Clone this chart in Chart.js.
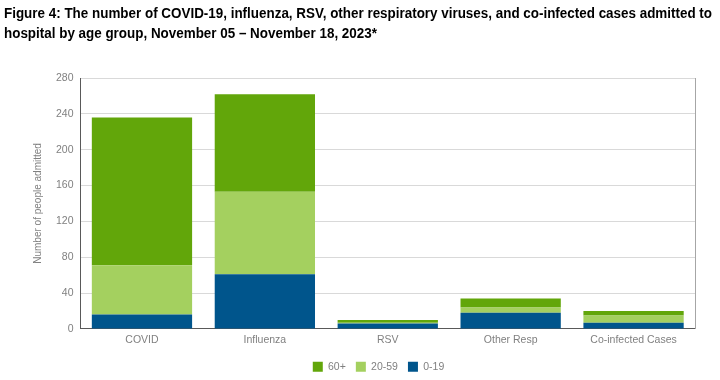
<!DOCTYPE html>
<html><head><meta charset="utf-8">
<script src="https://cdn.jsdelivr.net/npm/chart.js@4"></script>
<style>
html,body{margin:0;padding:0;background:#fff;width:720px;height:380px;overflow:hidden}
#wrap{position:relative;width:720px;height:380px}
#title{position:absolute;left:4px;top:3px;font-family:"Liberation Sans Narrow","Liberation Sans",Arial,sans-serif;font-weight:bold;font-size:14.5px;line-height:20px;color:#000;white-space:nowrap;transform-origin:0 0}
canvas{position:absolute;left:0;top:0}
</style></head>
<body><div id="wrap">
<canvas id="c" width="720" height="380"></canvas>
<div id="title"><span id="t1">Figure 4: The number of COVID-19, influenza, RSV, other respiratory viruses, and co-infected cases admitted to</span><br><span>hospital by age group, November 05 – November 18, 2023*</span></div>
</div>
<script>
const categories = ["COVID", "Influenza", "RSV", "Other Resp", "Co-infected Cases"];
const age0to19 = [16, 61, 6, 18, 7];
const age20to59 = [55, 92, 1, 6, 8];
const age60plus = [165, 109, 3, 10, 5];
const yTicks = [0, 40, 80, 120, 160, 200, 240, 280];

const t1 = document.getElementById('t1');
const w = t1.getBoundingClientRect().width;
document.getElementById('title').style.transform = 'scaleX(' + (708 / w) + ')';

const tickFont = {family: "'Liberation Sans', Arial, sans-serif", size: 10.5};
new Chart(document.getElementById('c'), {
  type: 'bar',
  data: {
    labels: categories,
    datasets: [
      {label: '0-19', data: age0to19, backgroundColor: '#00558C'},
      {label: '20-59', data: age20to59, backgroundColor: '#A4D05F'},
      {label: '60+', data: age60plus, backgroundColor: '#62A60A'}
    ]
  },
  options: {
    responsive: false,
    animation: false,
    layout: {padding: {top: 78, left: 32, right: -5, bottom: -2}},
    datasets: {bar: {categoryPercentage: 1, barPercentage: 0.816}},
    plugins: {
      legend: {
        position: 'bottom',
        reverse: true,
        labels: {boxWidth: 10, boxHeight: 10, padding: 10, color: '#808080', font: tickFont}
      },
      tooltip: {enabled: false}
    },
    scales: {
      x: {
        stacked: true,
        grid: {display: false, drawTicks: false},
        border: {display: true, color: '#595959', width: 1},
        ticks: {color: '#808080', font: tickFont, padding: 5}
      },
      y: {
        stacked: true,
        min: 0, max: 280,
        afterBuildTicks: (ax) => { ax.ticks = yTicks.map(v => ({value: v})); },
        grid: {color: '#d9d9d9', drawTicks: false},
        border: {display: true, color: '#595959', width: 1},
        ticks: {color: '#808080', font: tickFont, padding: 7},
        title: {display: true, text: 'Number of people admitted', color: '#808080', font: {family: "'Liberation Sans', Arial, sans-serif", size: 10}, padding: {top: 0, bottom: 5}}
      },
      y2: {
        position: 'right',
        min: 0, max: 280,
        afterFit: (ax) => { ax.width = 30; },
        grid: {display: false, drawTicks: false},
        border: {display: true, color: '#a6a6a6', width: 1},
        ticks: {display: false}
      }
    }
  }
});
</script>
</body></html>
